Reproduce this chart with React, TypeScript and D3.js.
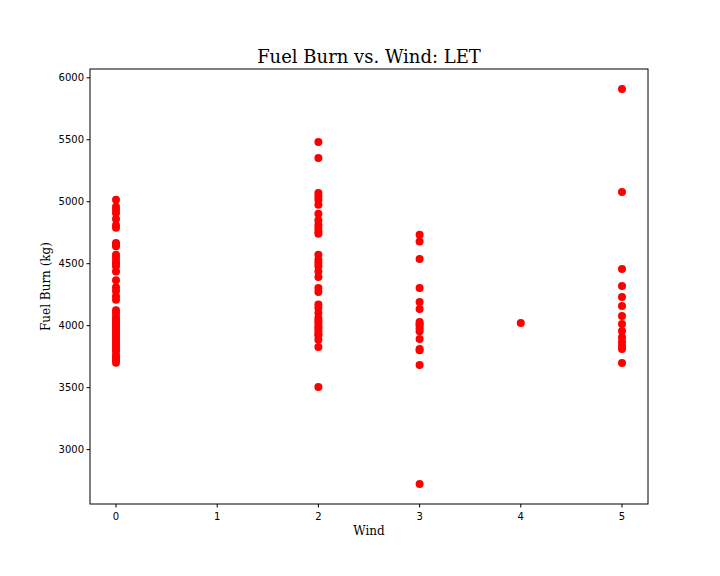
import * as d3 from 'd3';

const wind0 = [5016, 4960, 4935, 4910, 4860, 4810, 4790, 4667, 4650, 4640, 4573, 4550, 4520, 4500, 4479, 4438, 4366, 4310, 4280, 4237, 4210, 4124, 4100, 4070, 4050, 4030, 4010, 4000, 3990, 3970, 3950, 3930, 3910, 3890, 3870, 3850, 3830, 3810, 3790, 3760, 3740, 3720, 3700];
const wind2 = [5481, 5352, 5070, 5043, 5016, 4976, 4903, 4850, 4815, 4788, 4761, 4742, 4573, 4532, 4505, 4479, 4438, 4393, 4304, 4272, 4170, 4143, 4102, 4062, 4040, 4022, 3995, 3980, 3955, 3930, 3920, 3887, 3828, 3506];
const wind3 = [4734, 4680, 4538, 4304, 4191, 4135, 4030, 4015, 4003, 3979, 3955, 3893, 3812, 3801, 3683, 2723];
const wind4 = [4022];
const wind5 = [5909, 5078, 4457, 4320, 4231, 4159, 4078, 4014, 3957, 3906, 3871, 3839, 3812, 3699];

const groups: [number, number[]][] = [[0, wind0], [2, wind2], [3, wind3], [4, wind4], [5, wind5]];
const xTicks = [0, 1, 2, 3, 4, 5];
const yTicks = [3000, 3500, 4000, 4500, 5000, 5500, 6000];

const W = 720, H = 576;
const L = 90, R = 648, T = 69, B = 504;

export default function App() {
  const x = d3.scaleLinear().domain([-0.257, 5.257]).range([L, R]);
  const y = d3.scaleLinear().domain([2561, 6071]).range([B, T]);
  const pts = groups.flatMap(([w, vs]) => vs.map((v) => [w, v] as [number, number]));
  return (
    <svg width={W} height={H} style={{ position: 'absolute', left: 0, top: 0, background: '#fff' }}>
      <rect x={0} y={0} width={W} height={H} fill="#fff" />
      <text x={(L + R) / 2} y={63} textAnchor="middle" fontFamily="DejaVu Serif" fontSize={18}>
        Fuel Burn vs. Wind: LET
      </text>
      {pts.map(([w, v], i) => (
        <circle key={i} cx={x(w)} cy={y(v)} r={4} fill="#ff0000" />
      ))}
      <rect x={L} y={T} width={R - L} height={B - T} fill="none" stroke="#000" strokeWidth={1} />
      {xTicks.map((t) => (
        <g key={t}>
          <line x1={x(t)} x2={x(t)} y1={B} y2={B + 3.5} stroke="#000" />
          <text x={x(t)} y={B + 16} textAnchor="middle" fontFamily="DejaVu Sans" fontSize={10}>{t}</text>
        </g>
      ))}
      {yTicks.map((t) => (
        <g key={t}>
          <line x1={L - 3.5} x2={L} y1={y(t)} y2={y(t)} stroke="#000" />
          <text x={L - 6} y={y(t) + 3.5} textAnchor="end" fontFamily="DejaVu Sans" fontSize={10}>{t}</text>
        </g>
      ))}
      <text x={(L + R) / 2} y={535} textAnchor="middle" fontFamily="DejaVu Serif" fontSize={12}>Wind</text>
      <text transform={`translate(50, ${(T + B) / 2}) rotate(-90)`} textAnchor="middle" fontFamily="DejaVu Serif" fontSize={12}>
        Fuel Burn (kg)
      </text>
    </svg>
  );
}
